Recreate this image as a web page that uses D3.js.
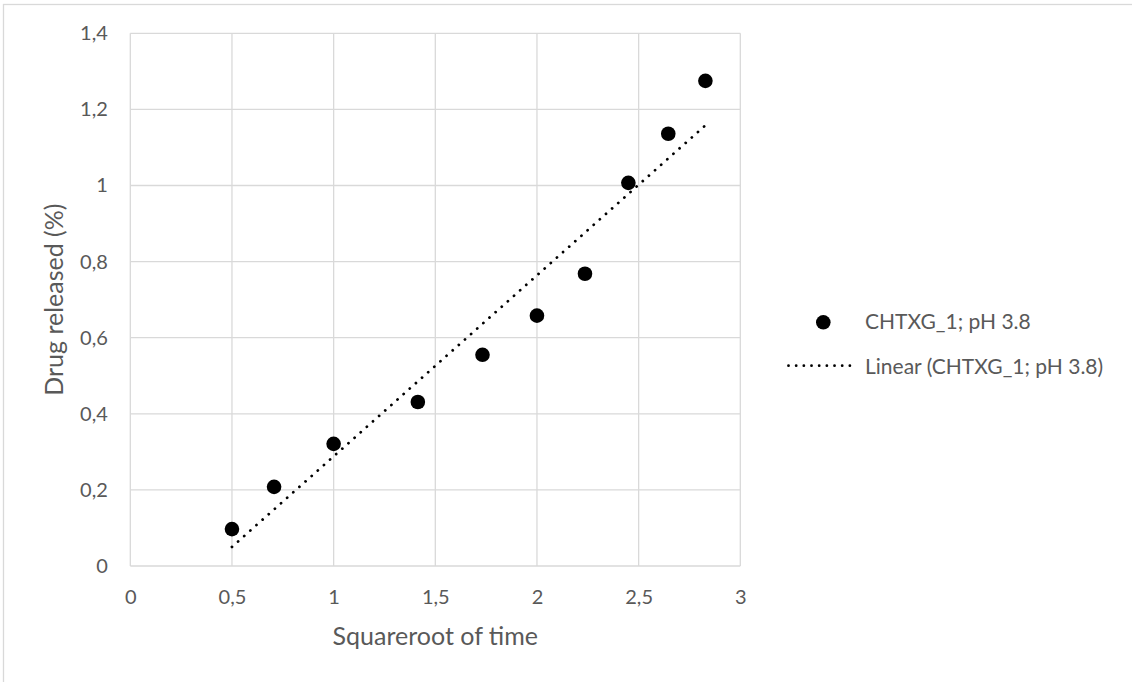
<!DOCTYPE html>
<html>
<head>
<meta charset="utf-8">
<script src="https://cdn.jsdelivr.net/npm/d3@7"></script>
<style>
  html, body { margin: 0; padding: 0; background: #fff; }
  svg { display: block; }
  text { font-family: Lato, "Open Sans", "Liberation Sans", sans-serif; fill: #595959; }
</style>
</head>
<body>
<svg id="chart" width="1132" height="682"></svg>
<script>
// Release data: square root of time vs. drug released
const seriesName = "CHTXG_1; pH 3.8";
const sqrtTime = [0.5, 0.7071, 1, 1.4142, 1.7321, 2, 2.2361, 2.4495, 2.6458, 2.8284];
const released = [0.097, 0.208, 0.321, 0.431, 0.555, 0.658, 0.768, 1.007, 1.136, 1.275];
const xTicks = [0, 0.5, 1, 1.5, 2, 2.5, 3];
const yTicks = [0, 0.2, 0.4, 0.6, 0.8, 1, 1.2, 1.4];
const xTitle = "Squareroot of time";
const yTitle = "Drug released (%)";

const svg = d3.select("#chart");
const plot = { left: 130.3, right: 740.3, top: 33.3, bottom: 566 };

const x = d3.scaleLinear().domain([0, 3]).range([plot.left, plot.right]);
const y = d3.scaleLinear().domain([0, 1.4]).range([plot.bottom, plot.top]);

const comma = d3.formatLocale({ decimal: ",", thousands: ".", grouping: [3], currency: ["", ""] });
const fmt = v => comma.format("~g")(v);

// chart area frame
svg.append("rect")
  .attr("x", 3.5).attr("y", 4.5)
  .attr("width", 1150).attr("height", 700)
  .attr("fill", "none").attr("stroke", "#d9d9d9").attr("stroke-width", 1.3);

// gridlines
const grid = svg.append("g").attr("stroke", "#d9d9d9").attr("stroke-width", 1.3);
grid.selectAll(".gx").data(xTicks).join("line")
  .attr("x1", d => x(d)).attr("x2", d => x(d))
  .attr("y1", plot.top).attr("y2", plot.bottom);
grid.selectAll(".gy").data(yTicks).join("line")
  .attr("x1", plot.left).attr("x2", plot.right)
  .attr("y1", d => y(d)).attr("y2", d => y(d));

// axes (labels only, Excel style)
const xAxis = svg.append("g")
  .attr("transform", `translate(0,${plot.bottom})`)
  .call(d3.axisBottom(x).tickValues(xTicks).tickFormat(fmt).tickSize(0).tickPadding(24));
xAxis.select(".domain").remove();
xAxis.selectAll("text").attr("font-size", 20).attr("fill", "#595959")
  .style("font-family", "Lato, 'Open Sans', sans-serif");

const yAxis = svg.append("g")
  .attr("transform", `translate(${plot.left},0)`)
  .call(d3.axisLeft(y).tickValues(yTicks).tickFormat(fmt).tickSize(0).tickPadding(22.5));
yAxis.select(".domain").remove();
yAxis.selectAll("text").attr("font-size", 20).attr("fill", "#595959")
  .style("font-family", "Lato, 'Open Sans', sans-serif");

// axis titles
svg.append("text")
  .attr("x", (plot.left + plot.right) / 2).attr("y", 645)
  .attr("text-anchor", "middle").attr("font-size", 25)
  .text(xTitle);
svg.append("text")
  .attr("transform", `translate(63,${(plot.top + plot.bottom) / 2}) rotate(-90)`)
  .attr("text-anchor", "middle").attr("font-size", 25)
  .text(yTitle);

// linear trendline (least squares)
const mx = d3.mean(sqrtTime), my = d3.mean(released);
const sxy = d3.sum(sqrtTime, (v, i) => (v - mx) * (released[i] - my));
const sxx = d3.sum(sqrtTime, v => (v - mx) ** 2);
const slope = sxy / sxx, intercept = my - slope * mx;
const xExt = d3.extent(sqrtTime);
const trend = xExt.map(v => [v, intercept + slope * v]);

svg.append("path")
  .attr("d", d3.line().x(d => x(d[0])).y(d => y(d[1]))(trend))
  .attr("fill", "none").attr("stroke", "#000").attr("stroke-width", 2.8)
  .attr("stroke-linecap", "round").attr("stroke-dasharray", "0.01 8.2");

// data points
svg.append("g").selectAll("circle")
  .data(sqrtTime.map((v, i) => [v, released[i]]))
  .join("circle")
  .attr("cx", d => x(d[0])).attr("cy", d => y(d[1]))
  .attr("r", 7.3).attr("fill", "#000");

// legend
const lg = svg.append("g");
lg.append("circle").attr("cx", 823.3).attr("cy", 322.3).attr("r", 7.3).attr("fill", "#000");
lg.append("text").attr("x", 865).attr("y", 329).attr("font-size", 21).text(seriesName);
lg.append("line")
  .attr("x1", 788.5).attr("x2", 857.5).attr("y1", 365.7).attr("y2", 365.7)
  .attr("stroke", "#000").attr("stroke-width", 2.8)
  .attr("stroke-linecap", "round").attr("stroke-dasharray", "0.01 7.66");
lg.append("text").attr("x", 865).attr("y", 374).attr("font-size", 21).text(`Linear (${seriesName})`);
</script>
</body>
</html>
